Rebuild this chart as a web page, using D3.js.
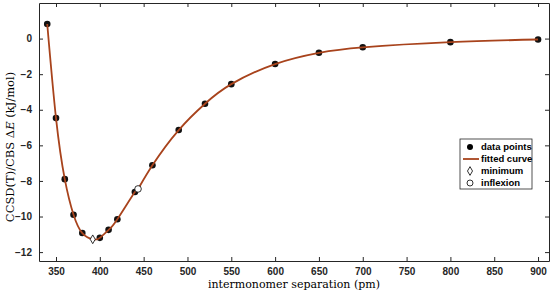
<!DOCTYPE html>
<html>
<head>
<meta charset="utf-8">
<script src="https://cdn.jsdelivr.net/npm/d3@7"></script>
<style>
  body { margin: 0; background: #fff; }
  .tick text { font-family: "Liberation Sans", Arial, sans-serif; font-weight: bold; font-size: 10px; fill: #262626; }
  .axislabel { font-family: "DejaVu Serif", serif; fill: #000; }
  .legend text { font-family: "Liberation Sans", Arial, sans-serif; font-weight: bold; font-size: 9.5px; fill: #000; }
</style>
</head>
<body>
<div class="chart"></div>
<script>
// data
var sepPm = [340, 350, 360, 370, 380, 400, 410, 420, 440, 460, 490, 520, 550, 600, 650, 700, 800, 900];
var energy = [0.82, -4.47, -7.9, -9.9, -10.93, -11.2, -10.75, -10.15, -8.62, -7.12, -5.14, -3.66, -2.56, -1.43, -0.80, -0.49, -0.20, -0.05];

// fitted curve knots (data points plus minimum and inflexion)
var fitX = [340, 350, 360, 370, 380, 391.9, 400, 410, 420, 440, 443.6, 460, 490, 520, 550, 600, 650, 700, 800, 900];
var fitY = [0.82, -4.47, -7.9, -9.9, -10.93, -11.28, -11.2, -10.75, -10.15, -8.62, -8.45, -7.12, -5.14, -3.66, -2.56, -1.43, -0.80, -0.49, -0.20, -0.05];

var minimumPt = [391.9, -11.28];
var inflexionPt = [443.6, -8.45];

var xTicks = [350, 400, 450, 500, 550, 600, 650, 700, 750, 800, 850, 900];
var yTicks = [-12, -10, -8, -6, -4, -2, 0];

var legendItems = ["data points", "fitted curve", "minimum", "inflexion"];

var svgWidth = 550, svgHeight = 293;
var margin = { top: 3, right: 1, bottom: 32, left: 39 };
var width = svgWidth - margin.left - margin.right;
var height = svgHeight - margin.top - margin.bottom;
var curveColor = "#a8431c";

var svg = d3.select(".chart").append("svg")
    .attr("width", svgWidth)
    .attr("height", svgHeight);

var chartGroup = svg.append("g")
    .attr("transform", `translate(${margin.left}, ${margin.top})`);

var xScale = d3.scaleLinear().domain([330.6, 912.5]).range([0, width]);
var yScale = d3.scaleLinear().domain([-12.5, 2]).range([height, 0]);

// axes with inward ticks, box on
function styleAxis(g) {
    g.select(".domain").attr("stroke", "#262626");
    g.selectAll(".tick line").attr("stroke", "#262626");
}

chartGroup.append("g")
    .attr("transform", `translate(0, ${height})`)
    .call(d3.axisBottom(xScale).tickValues(xTicks).tickSize(-4).tickPadding(7).tickSizeOuter(0))
    .call(styleAxis);

chartGroup.append("g")
    .call(d3.axisTop(xScale).tickValues(xTicks).tickSize(-4).tickFormat("").tickSizeOuter(0))
    .call(styleAxis);

chartGroup.append("g")
    .call(d3.axisLeft(yScale).tickValues(yTicks).tickSize(-4).tickPadding(7).tickSizeOuter(0)
        .tickFormat(d => d < 0 ? "\u2212" + Math.abs(d) : d))
    .call(styleAxis);

chartGroup.append("g")
    .attr("transform", `translate(${width}, 0)`)
    .call(d3.axisRight(yScale).tickValues(yTicks).tickSize(-4).tickFormat("").tickSizeOuter(0))
    .call(styleAxis);

// data points
var points = sepPm.map((d, i) => [d, energy[i]]);
chartGroup.selectAll("circle.pt")
    .data(points)
    .enter()
    .append("circle")
    .attr("class", "pt")
    .attr("cx", d => xScale(d[0]))
    .attr("cy", d => yScale(d[1]))
    .attr("r", 3.3)
    .attr("fill", "#111");

// fitted curve
var line = d3.line()
    .x(d => xScale(d[0]))
    .y(d => yScale(d[1]))
    .curve(d3.curveNatural);

chartGroup.append("path")
    .datum(fitX.map((d, i) => [d, fitY[i]]))
    .attr("d", line)
    .attr("fill", "none")
    .attr("stroke", curveColor)
    .attr("stroke-width", 1.8);

// minimum and inflexion markers
var diamond = d3.symbol().type(d3.symbolDiamond).size(22);
chartGroup.append("path")
    .attr("d", diamond)
    .attr("transform", `translate(${xScale(minimumPt[0])}, ${yScale(minimumPt[1])})`)
    .attr("fill", "#fff")
    .attr("stroke", "#000")
    .attr("stroke-width", 0.8);

chartGroup.append("circle")
    .attr("cx", xScale(inflexionPt[0]))
    .attr("cy", yScale(inflexionPt[1]))
    .attr("r", 3.3)
    .attr("fill", "#fff")
    .attr("stroke", "#000")
    .attr("stroke-width", 0.8);

// axis labels
svg.append("text")
    .attr("class", "axislabel")
    .attr("x", margin.left + width / 2)
    .attr("y", 288)
    .attr("text-anchor", "middle")
    .style("font-size", "11px")
    .text("intermonomer separation (pm)");

var yLabel = svg.append("text")
    .attr("class", "axislabel")
    .attr("transform", "translate(14, 147) rotate(-90)")
    .attr("text-anchor", "middle")
    .style("font-size", "11.5px");
yLabel.append("tspan").text("CCSD(T)/CBS \u0394");
yLabel.append("tspan").style("font-style", "italic").text("E");
yLabel.append("tspan").text(" (kJ/mol)");

// legend
var legend = svg.append("g")
    .attr("class", "legend")
    .attr("transform", "translate(460, 139)");

legend.append("rect")
    .attr("width", 72)
    .attr("height", 50)
    .attr("fill", "#fff")
    .attr("stroke", "#262626")
    .attr("stroke-width", 0.8);

var rowY = i => 8 + i * 12;

legend.append("circle").attr("cx", 10).attr("cy", rowY(0)).attr("r", 3).attr("fill", "#000");
legend.append("line").attr("x1", 3).attr("x2", 19).attr("y1", rowY(1)).attr("y2", rowY(1))
    .attr("stroke", curveColor).attr("stroke-width", 1.8);
legend.append("path").attr("d", diamond).attr("transform", `translate(10, ${rowY(2)})`)
    .attr("fill", "#fff").attr("stroke", "#000").attr("stroke-width", 0.8);
legend.append("circle").attr("cx", 10).attr("cy", rowY(3)).attr("r", 3)
    .attr("fill", "#fff").attr("stroke", "#000").attr("stroke-width", 0.8);

legend.selectAll("text.lbl")
    .data(legendItems)
    .enter()
    .append("text")
    .attr("class", "lbl")
    .attr("x", 21)
    .attr("y", (d, i) => rowY(i))
    .attr("dy", "0.35em")
    .text(d => d);
</script>
</body>
</html>
